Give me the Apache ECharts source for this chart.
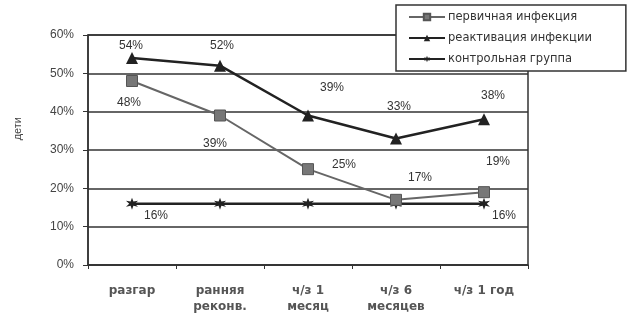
<!DOCTYPE html>
<html>
<head>
<meta charset="utf-8">
<script src="https://cdn.jsdelivr.net/npm/echarts@6/dist/echarts.min.js"></script>
<style>
  html, body { margin: 0; padding: 0; background: #fff; }
</style>
</head>
<body>
<!-- контейнер под график -->
<div id="chart" style="width: 629px; height: 320px"></div>
<script>
// категории по оси X
var categories = ["разгар", "ранняя\nреконв.", "ч/з 1\nмесяц", "ч/з 6\nмесяцев", "ч/з 1 год"];
// значения, %
var primaryData = [48, 39, 25, 17, 19];
var reactivData = [54, 52, 39, 33, 38];
var controlData = [16, 16, 16, 16, 16];
var seriesNames = ["первичная инфекция", "реактивация инфекции", "контрольная группа"];

// где ставить подписи (смещения в пикселях)
var primaryOffsets = [[-3, 22], [-5, 28], [36, -4], [24, -22], [14, -30]];
var reactivOffsets = [[-1, -12], [2, -20], [24, -28], [3, -32], [9, -24]];

var starPath = "path://M50,0 L60,32 L93,25 L70,50 L93,75 L60,68 L50,100 L40,68 L7,75 L30,50 L7,25 L40,32 Z";

function withLabels(values, offsets, show) {
  return values.map(function (v, i) {
    return {
      value: v,
      label: { show: show ? show[i] : true, offset: offsets[i] }
    };
  });
}

var chart = echarts.init(document.getElementById("chart"));
chart.setOption({
  animation: false,
  textStyle: { fontFamily: "Liberation Sans, Arial, sans-serif" },
  grid: {
    left: 88,
    right: 101,
    top: 35,
    bottom: 55,
    show: true,
    borderColor: "#333",
    borderWidth: 1.5
  },
  legend: {
    orient: "vertical",
    left: 396,
    top: 5,
    padding: [6, 34, 6, 12],
    itemGap: 9,
    itemWidth: 36,
    itemHeight: 8,
    borderColor: "#333",
    borderWidth: 1.5,
    backgroundColor: "#fff",
    data: seriesNames,
    textStyle: {
      fontFamily: "DejaVu Sans, sans-serif",
      fontSize: 11.5,
      color: "#333",
      padding: [0, 0, 0, -2]
    }
  },
  xAxis: {
    type: "category",
    data: categories,
    boundaryGap: true,
    axisLine: { lineStyle: { color: "#333", width: 1.5 } },
    axisTick: { show: true, length: 4, lineStyle: { color: "#333" } },
    axisLabel: {
      margin: 18,
      fontSize: 12,
      fontWeight: "bold",
      color: "#555",
      lineHeight: 16,
      fontFamily: "DejaVu Sans, sans-serif"
    }
  },
  yAxis: {
    type: "value",
    min: 0,
    max: 60,
    interval: 10,
    axisLine: { show: true, lineStyle: { color: "#333", width: 1.5 } },
    axisTick: { show: true, length: 5, lineStyle: { color: "#333" } },
    axisLabel: {
      formatter: "{value}%",
      margin: 14,
      fontSize: 12,
      color: "#444"
    },
    splitLine: { lineStyle: { color: "#333", width: 1.5 } }
  },
  graphic: [
    {
      type: "text",
      left: 12,
      top: 117,
      rotation: Math.PI / 2,
      style: { text: "дети", fontSize: 11, fill: "#444", fontFamily: "Liberation Sans, Arial" }
    }
  ],
  series: [
    {
      name: seriesNames[0],
      type: "line",
      data: withLabels(primaryData, primaryOffsets),
      symbol: "rect",
      symbolSize: 11,
      itemStyle: { color: "#777", borderColor: "#555", borderWidth: 1 },
      lineStyle: { color: "#666", width: 2 },
      label: { show: true, formatter: "{c}%", position: "inside", fontSize: 12, color: "#333" },
      z: 3
    },
    {
      name: seriesNames[1],
      type: "line",
      data: withLabels(reactivData, reactivOffsets),
      symbol: "triangle",
      symbolSize: 12,
      itemStyle: { color: "#222" },
      lineStyle: { color: "#222", width: 2.5 },
      label: { show: true, formatter: "{c}%", position: "inside", fontSize: 12, color: "#333" },
      z: 4
    },
    {
      name: seriesNames[2],
      type: "line",
      data: withLabels(controlData, [[24, 12], [0, 0], [0, 0], [0, 0], [20, 12]],
        [true, false, false, false, true]),
      symbol: starPath,
      symbolSize: 12,
      itemStyle: { color: "#222" },
      lineStyle: { color: "#222", width: 2.5 },
      label: { show: true, formatter: "{c}%", position: "inside", fontSize: 12, color: "#333" },
      z: 2
    }
  ]
});
</script>
</body>
</html>
